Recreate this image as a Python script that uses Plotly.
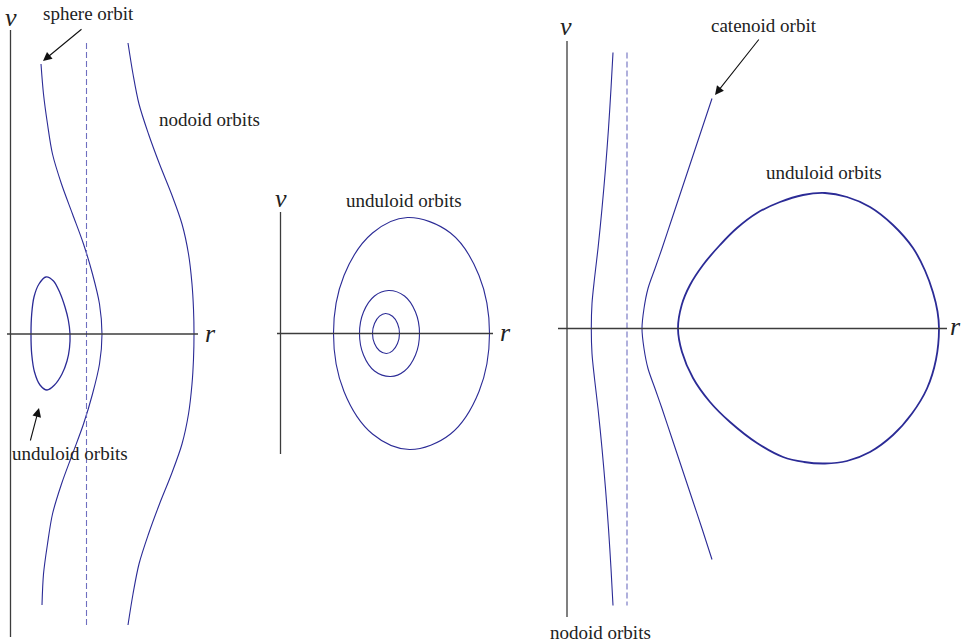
import plotly.graph_objects as go

# ---------------- data (r, v) in each panel's own phase-plane units ----------------
# Panel 1: sphere orbit, nodoid orbit, small unduloid orbit, asymptote
sphere_r = [30.5, 33, 37, 42, 51, 62, 73, 82, 89, 91.5, 89, 82, 73, 62, 51, 42, 37, 33, 31.5]
sphere_v = [270, 240, 210, 180, 150, 120, 90, 60, 30, 0, -30, -60, -90, -120, -150, -180, -210, -240, -271]

nodoid1_r = [117.5, 122.5, 128.5, 138, 149, 161, 171.5, 178, 181.5, 183, 183.5,
             183, 181.5, 178, 171.5, 161, 149, 138, 128.5, 122.5, 117.5]
nodoid1_v = [291, 260, 230, 200, 170, 140, 110, 80, 50, 25, 0,
             -25, -50, -80, -110, -140, -170, -200, -230, -260, -291]

undul1_r = [59.5, 59, 56.5, 51.5, 44, 36.5, 29.5, 24, 21.2, 20.5, 21.2, 23.5, 28.5, 35.5, 43, 49.5, 54.5, 57.8, 59.5]
undul1_v = [0, -14, -27, -40, -51, -56, -51, -38, -20, 0, 20, 37, 50, 57, 53, 41, 27, 14, 0]

asym1_r = [76, 76]
asym1_v = [291, -291]

# Panel 2: nested unduloid orbits around the centre
outer_r = [209, 198.5, 170, 127, 92, 63.5, 53, 63.5, 92, 129, 170, 198.5, 209]
outer_v = [0, 58, 100.5, 116, 100.5, 58, 0, -58, -100.5, -116, -100.5, -58, 0]

middle_r = [139, 135, 124, 108, 94, 83, 79, 83, 94, 110, 124, 135, 139]
middle_v = [0, 21.5, 37.5, 43, 37.5, 21.5, 0, -21.5, -37.5, -43, -37.5, -21.5, 0]

inner_r = [119, 117, 112, 105, 99, 94, 92, 94, 99, 106, 112, 117, 119]
inner_v = [0, 10, 17.3, 20, 17.3, 10, 0, -10, -17.3, -20, -17.3, -10, 0]

# Panel 3: nodoid orbit, catenoid orbit, unduloid orbit, asymptote
nodoid3_r = [46, 44, 41.5, 38.5, 35, 31, 27.5, 25, 24.3, 25, 27.5, 31, 35, 38.5, 41.5, 44, 46]
nodoid3_v = [276, 240, 200, 160, 120, 80, 50, 25, 0, -25, -50, -80, -120, -160, -200, -240, -277]

caten_r = [145, 135, 125, 115, 105, 95, 88, 81, 77, 75, 77, 81, 88, 95, 105, 115, 125, 135, 145]
caten_v = [230, 200, 170, 140, 110, 80, 60, 40, 20, 0, -20, -40, -60, -80, -110, -140, -170, -200, -231]

undul3_r = [372, 370.5, 366, 358, 346, 326, 303, 280, 258, 236, 213, 190, 170, 153, 136, 123, 114.7, 111,
            115, 126, 143, 163, 190, 216, 237, 258, 280, 303, 326, 345, 360, 369, 372]
undul3_v = [0, 17, 36, 58, 80.5, 103.5, 121.5, 131.5, 135.5, 133.5, 126.5, 115.5, 100.5, 83.5, 63.5, 43.5, 23.5, 0,
            -23.5, -49.5, -73.5, -93.5, -114.5, -128.5, -133.5, -135, -132.5, -123.5, -106.5, -85, -60, -31, 0]

asym3_r = [60, 60]
asym3_v = [276, -277]

# ---------------- layout geometry ----------------
W, H = 962, 643
# pixel extents of each panel and the pixel position of its origin
panels = [
    dict(x0=0, x1=250, ox=10.5, oy=334.0),
    dict(x0=250, x1=530, ox=280.5, oy=333.5),
    dict(x0=530, x1=962, ox=567.0, oy=328.5),
]

CURVE = "#2b2b96"
DASH = "#6f6fc0"
AXIS = "#3c3c3c"
FONT = "Liberation Serif"

fig = go.Figure()


def curve(idx, r, v, color=CURVE, width=1.1, dash=None, smoothing=0.9):
    ax = "" if idx == 1 else str(idx)
    fig.add_trace(go.Scatter(
        x=r, y=v, mode="lines", xaxis="x" + ax, yaxis="y" + ax,
        line=dict(color=color, width=width, dash=dash, shape="spline", smoothing=smoothing),
        hoverinfo="skip", showlegend=False,
    ))


# panel 1
curve(1, sphere_r, sphere_v)
curve(1, nodoid1_r, nodoid1_v)
curve(1, undul1_r, undul1_v, width=1.3)
curve(1, asym1_r, asym1_v, color=DASH, width=1.1, dash="6px,3px")
# panel 2
curve(2, outer_r, outer_v, smoothing=1.0)
curve(2, middle_r, middle_v, smoothing=1.0)
curve(2, inner_r, inner_v, smoothing=1.0)
# panel 3
curve(3, nodoid3_r, nodoid3_v)
curve(3, caten_r, caten_v)
curve(3, undul3_r, undul3_v, width=1.8, smoothing=1.1)
curve(3, asym3_r, asym3_v, color=DASH, width=1.1, dash="6px,3px")

layout = dict(
    width=W, height=H, margin=dict(l=0, r=0, t=0, b=0),
    paper_bgcolor="white", plot_bgcolor="white", showlegend=False,
)
for i, p in enumerate(panels, start=1):
    key = "" if i == 1 else str(i)
    layout["xaxis" + key] = dict(
        domain=[p["x0"] / W, p["x1"] / W],
        range=[p["x0"] - p["ox"], p["x1"] - p["ox"]],
        visible=False, fixedrange=True,
    )
    layout["yaxis" + key] = dict(
        domain=[0, 1], range=[p["oy"] - H, p["oy"]],
        visible=False, fixedrange=True,
    )
    if i > 1:
        layout["xaxis" + key]["anchor"] = "y" + key
        layout["yaxis" + key]["anchor"] = "x" + key
fig.update_layout(**layout)

# coordinate axes of each phase plane: (panel, r_min, r_max, v_min, v_max)
axes_ext = [
    (1, -3.5, 187.5, -303, 304),
    (2, -3.5, 212.5, -120.5, 121.5),
    (3, -9, 380, -288.5, 287.5),
]
for i, rmin, rmax, vmin, vmax in axes_ext:
    ax = "" if i == 1 else str(i)
    fig.add_shape(type="line", xref="x" + ax, yref="y" + ax, x0=rmin, x1=rmax, y0=0, y1=0,
                  line=dict(color=AXIS, width=1.3))
    fig.add_shape(type="line", xref="x" + ax, yref="y" + ax, x0=0, x1=0, y0=vmin, y1=vmax,
                  line=dict(color=AXIS, width=1.3))


def label(i, x, y, text, size=19):
    ax = "" if i == 1 else str(i)
    fig.add_annotation(
        xref="x" + ax, yref="y" + ax, x=x, y=y, text=text, showarrow=False,
        xanchor="center", yanchor="middle",
        font=dict(family=FONT, size=size, color="#222222"),
    )


def arrow(i, x, y, dx, dy):
    ax = "" if i == 1 else str(i)
    fig.add_annotation(
        xref="x" + ax, yref="y" + ax, x=x, y=y, ax=dx, ay=dy, axref="pixel", ayref="pixel",
        text="", showarrow=True, arrowhead=2, arrowsize=1.6, arrowwidth=1.1,
        arrowcolor="#111111", standoff=0,
    )


# axis letters
label(1, 0.5, 317, "<i>v</i>", size=26)
label(1, 199.5, 1, "<i>r</i>", size=26)
label(2, 0.5, 135.5, "<i>v</i>", size=26)
label(2, 224.5, 1.5, "<i>r</i>", size=26)
label(3, -1, 302.5, "<i>v</i>", size=26)
label(3, 388, 2.5, "<i>r</i>", size=26)

# orbit names
label(1, 77.5, 321, "sphere orbit")
label(1, 198.5, 215, "nodoid orbits")
label(1, 59.5, -119, "unduloid orbits")
label(2, 123.5, 133.5, "unduloid orbits")
label(3, 197, 303.5, "catenoid orbit")
label(3, 257, 156.5, "unduloid orbits")
label(3, 33, -303.5, "nodoid orbits")

arrow(1, 32.5, 273, 40, -33)
arrow(1, 28.5, -74, -9, 34)
arrow(3, 148, 233.5, 45, -57)

fig.write_html("out.html")
